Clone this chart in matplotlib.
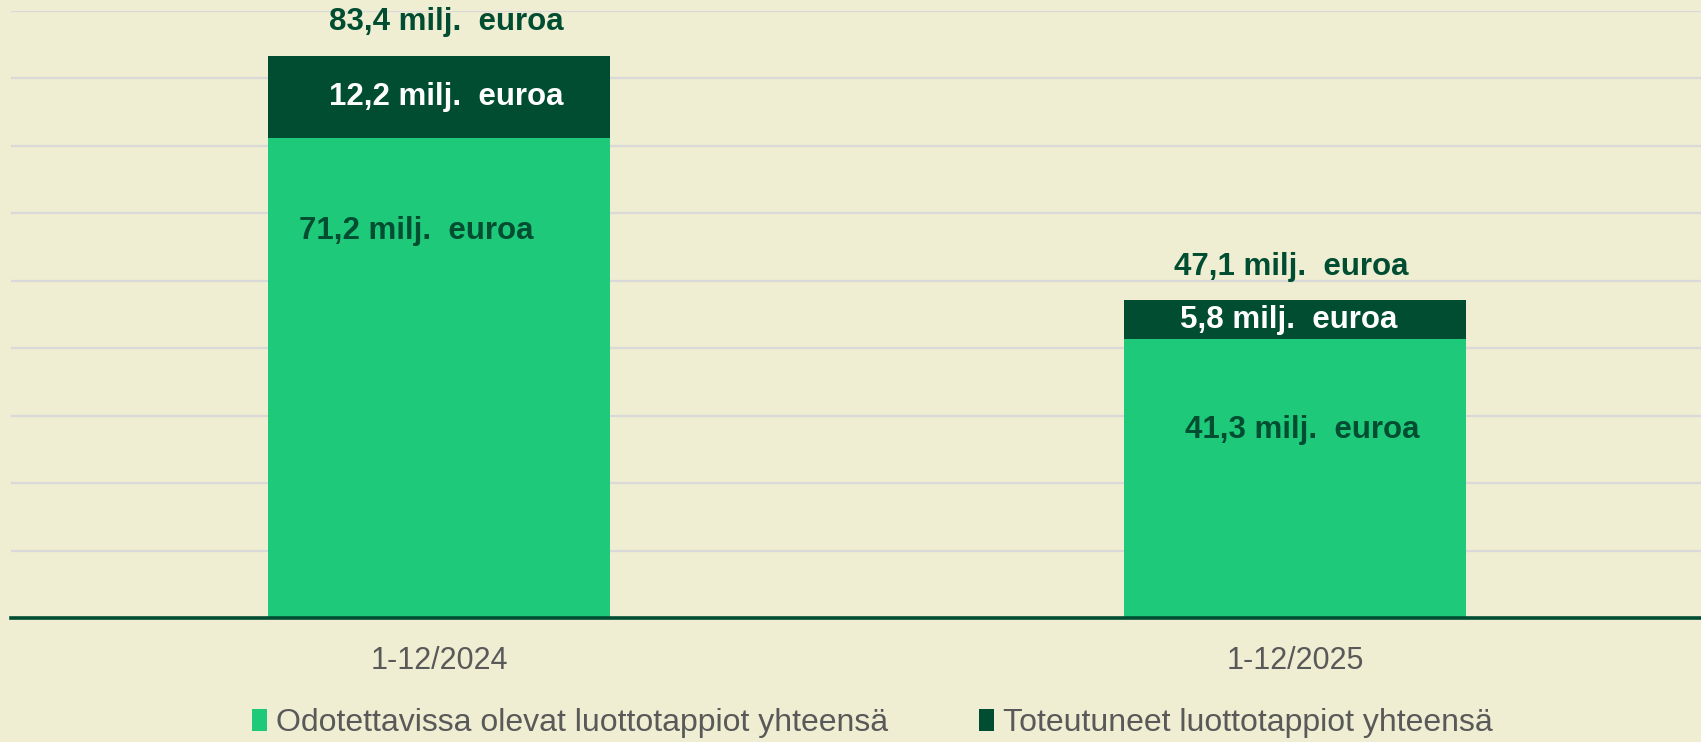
import matplotlib
matplotlib.use('Agg')
import matplotlib.pyplot as plt
import numpy as np

# Data
periods = ['1-12/2024', '1-12/2025']
expected_losses = [71.2, 41.3]   # Odotettavissa olevat luottotappiot
realized_losses = [12.2, 5.8]    # Toteutuneet luottotappiot
totals = [83.4, 47.1]
series_names = ['Odotettavissa olevat luottotappiot yhteensä',
                'Toteutuneet luottotappiot yhteensä']

# Colours
bg = '#EFEED2'
light_green = '#1ECA7A'
dark_green = '#004D31'
grid_col = '#D9D9D9'
text_gray = '#595959'

plt.rcParams['font.family'] = ['Liberation Sans', 'DejaVu Sans']

fig = plt.figure(figsize=(17.01, 7.42), dpi=100, facecolor=bg)
ax = fig.add_axes([11 / 1701, 124 / 742, 1712 / 1701, 607 / 742])
ax.set_facecolor(bg)

x = np.arange(len(periods))
w = 0.4
ax.bar(x, expected_losses, width=w, color=light_green, label=series_names[0], zorder=2)
ax.bar(x, realized_losses, width=w, bottom=expected_losses, color=dark_green,
       label=series_names[1], zorder=2)

ax.set_xlim(-0.5, 1.5)
ax.set_ylim(0, 90)
ax.set_yticks(np.arange(0, 91, 10))
ax.yaxis.grid(True, color=grid_col, linewidth=1.6)
ax.set_axisbelow(True)
ax.tick_params(axis='y', left=False, labelleft=False)
ax.set_xticks(x)
ax.set_xticklabels(periods, fontsize=22, color=text_gray)
ax.tick_params(axis='x', length=0, pad=20)

for s in ['top', 'right', 'left']:
    ax.spines[s].set_visible(False)
ax.spines['bottom'].set_color(dark_green)
ax.spines['bottom'].set_linewidth(2.6)
ax.spines['bottom'].set_zorder(5)

# label layout tweaks
green_frac = [0.806, 0.675]
green_dx = [-0.027, 0.008]
dark_dx = [0.009, -0.007]
total_dx = [0.009, -0.004]

def fmt(v):
    return f'{v:.1f}'.replace('.', ',') + ' milj.  euroa'

for i in range(len(periods)):
    ax.text(x[i] + green_dx[i], expected_losses[i] * green_frac[i], fmt(expected_losses[i]),
            ha='center', va='center', fontsize=22.5, fontweight='bold', color=dark_green, zorder=3)
    ax.text(x[i] + dark_dx[i], expected_losses[i] + realized_losses[i] / 2, fmt(realized_losses[i]),
            ha='center', va='center', fontsize=22.5, fontweight='bold', color='white', zorder=3)
    ax.annotate(fmt(totals[i]), xy=(x[i] + total_dx[i], totals[i]), xytext=(0, 24),
                textcoords='offset points', ha='center', va='center', fontsize=22.5,
                fontweight='bold', color=dark_green)

fig.legend(loc='center', bbox_to_anchor=(872 / 1701, 1 - 723 / 742), ncol=2, frameon=False,
           fontsize=23, labelcolor=text_gray, handlelength=0.47, handleheight=0.7,
           handletextpad=0.28, columnspacing=2.85, borderaxespad=0)

fig.savefig('out.png', dpi=100, facecolor=bg)
